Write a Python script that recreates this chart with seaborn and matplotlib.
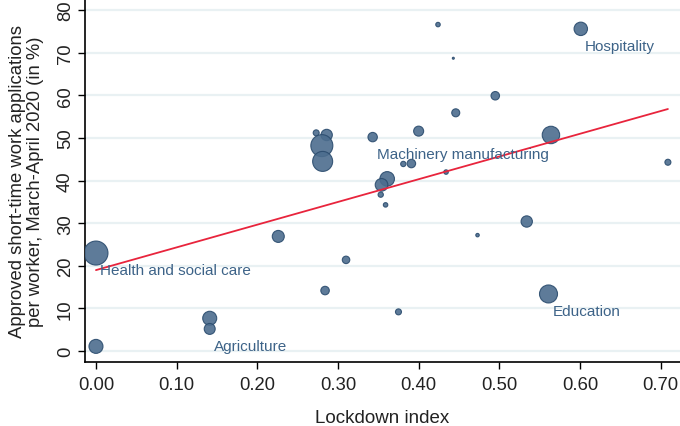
import numpy as np
import pandas as pd
import matplotlib
matplotlib.use("Agg")
import matplotlib.pyplot as plt
import seaborn as sns

# Data
lockdown = [0.000, 0.000, 0.141, 0.141, 0.226, 0.310, 0.284, 0.375, 0.359, 0.353,
            0.473, 0.534, 0.561, 0.424, 0.443, 0.446, 0.273, 0.286, 0.280, 0.281,
            0.343, 0.400, 0.381, 0.391, 0.434, 0.361, 0.354, 0.601, 0.495, 0.564,
            0.709]
approved = [1.1, 23.0, 7.7, 5.2, 26.9, 21.4, 14.2, 9.2, 34.3, 36.7,
            27.2, 30.4, 13.4, 76.6, 68.7, 55.9, 51.2, 50.7, 48.2, 44.5,
            50.2, 51.6, 43.9, 44.0, 42.0, 40.4, 39.0, 75.6, 59.9, 50.7,
            44.3]
# relative employment weight (bubble area)
weight = [49, 144, 49, 30, 36, 14, 18, 9, 5, 7,
          3, 32, 81, 5, 1, 16, 9, 32, 121, 100,
          22, 25, 7, 18, 5, 53, 40, 45, 18, 76,
          9]
sector = ["", "Health and social care", "", "Agriculture", "", "", "", "", "", "",
          "", "", "Education", "", "", "", "", "", "", "",
          "Machinery manufacturing", "", "", "", "", "", "", "Hospitality", "", "",
          ""]

# fitted line
fit_intercept = 19.0
fit_slope = 53.3

xticks = [0.0, 0.1, 0.2, 0.3, 0.4, 0.5, 0.6, 0.7]
xticklabels = ["0.00", "0.10", "0.20", "0.30", "0.40", "0.50", "0.60", "0.70"]
yticks = [0, 10, 20, 30, 40, 50, 60, 70, 80]

df = pd.DataFrame({"lockdown": lockdown, "approved": approved,
                   "weight": weight, "sector": sector})

sns.set_theme(style="white")
plt.rcParams["font.family"] = ["Liberation Sans", "DejaVu Sans"]

fig = plt.figure(figsize=(6.8, 4.27), dpi=100)
ax = fig.add_axes([0.125, 0.149, 0.875, 0.851])

for yv in yticks:
    ax.axhline(yv, color="#e9f1f3", lw=1.6, zorder=0)

wmax = max(weight)
rmax_px = 12.0
smax = (2 * rmax_px * 0.72) ** 2
sns.scatterplot(data=df, x="lockdown", y="approved", size="weight",
                sizes=(0, smax), size_norm=(0, wmax), color="#4c6d8e",
                alpha=0.9, edgecolor="#2b4c6e", linewidth=0.8,
                legend=False, ax=ax, zorder=3)

xl = np.array([min(lockdown), max(lockdown)])
ax.plot(xl, fit_intercept + fit_slope * xl, color="#e8243c", lw=1.3, zorder=4)

for _, r in df.iterrows():
    if r["sector"]:
        ax.annotate(r["sector"], (r["lockdown"], r["approved"]),
                    xytext=(3, -7), textcoords="offset points",
                    ha="left", va="top", fontsize=11, color="#3d6388", zorder=5)

ax.set_xlim(-0.0136, 0.724)
ax.set_ylim(-2.65, 82.6)
ax.set_xticks(xticks)
ax.set_xticklabels(xticklabels)
ax.set_yticks(yticks)
ax.set_yticklabels([str(v) for v in yticks], rotation=90, va="center")
ax.tick_params(axis="both", direction="out", length=5, width=1, color="black",
               labelsize=13.3, labelcolor="#222222", bottom=True, left=True)
ax.tick_params(axis="y", pad=3)
ax.tick_params(axis="x", pad=5)

for s in ["top", "right"]:
    ax.spines[s].set_visible(False)
for s in ["left", "bottom"]:
    ax.spines[s].set_color("black")
    ax.spines[s].set_linewidth(1.2)

ax.set_xlabel("Lockdown index", fontsize=13.5, color="#222222", labelpad=11)
ax.set_ylabel("Approved short-time work applications\nper worker, March-April 2020 (in %)",
              fontsize=13.3, color="#222222", labelpad=9, linespacing=1.1)

fig.savefig("out.png", dpi=100)
